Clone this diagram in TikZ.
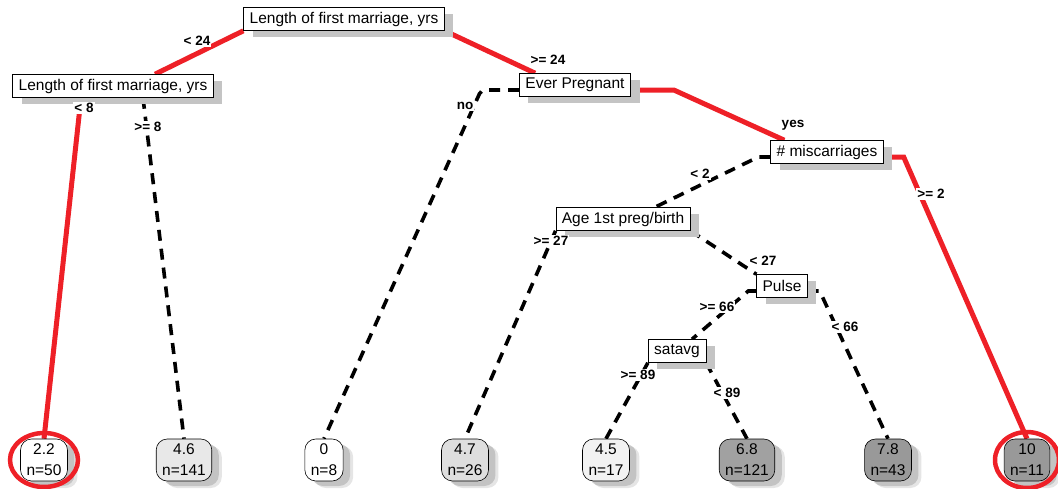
\documentclass[tikz,border=0pt]{standalone}
\usepackage{fontspec}
\setmainfont{Liberation Sans}
\usetikzlibrary{calc,shadows,shapes.geometric,backgrounds}
\definecolor{edgered}{HTML}{EE2027}
\definecolor{shadowgray}{HTML}{C4C4C4}
\tikzset{
  splitbox/.style={draw=black, line width=0.6pt, fill=white, inner xsep=6pt, inner ysep=0pt,
    minimum height=23pt, font=\fontsize{15.5}{18}\selectfont,
    general shadow={fill=shadowgray, shadow xshift=9pt, shadow yshift=-6pt}},
  leafbox/.style={draw=black, line width=0.6pt, rounded corners=11pt, align=center, inner xsep=6pt,
    inner ysep=2pt, minimum height=42pt, font=\fontsize{15.5}{21}\selectfont,
    general shadow={fill=black!40, opacity=0.25, shadow xshift=10pt, shadow yshift=-7pt},
    general shadow={fill=black!40, opacity=0.45, shadow xshift=7pt, shadow yshift=-5pt}},
  redge/.style={draw=edgered, line width=5pt},
  dedge/.style={draw=black, line width=3.6pt, dash pattern=on 11pt off 8pt},
  elabel/.style={fill=white, inner sep=1pt, font=\bfseries\fontsize{13.5}{14}\selectfont},
  hilite/.style={draw=edgered, line width=4.5pt},
}
\begin{document}
\begin{tikzpicture}[x=1pt,y=-1pt]
\useasboundingbox (0,0) rectangle (1058,488);
% split nodes
\node[splitbox] (root) at (344,19) {Length of first marriage, yrs};
\node[splitbox] (L1) at (113,86) {Length of first marriage, yrs};
\node[splitbox] (ep) at (575,85) {Ever Pregnant};
\node[splitbox] (misc) at (827,152) {\# miscarriages};
\node[splitbox] (age) at (623,219) {Age 1st preg/birth};
\node[splitbox] (pulse) at (782,286) {Pulse};
\node[splitbox] (sat) at (677,351) {satavg};
% leaves
\node[leafbox, fill=white] (l1) at (44,460) {2.2\\n=50};
\node[leafbox, fill=black!9] (l2) at (184,460) {4.6\\n=141};
\node[leafbox, fill=white] (l3) at (324,460) {0\\n=8};
\node[leafbox, fill=black!13] (l4) at (465,460) {4.7\\n=26};
\node[leafbox, fill=black!5] (l5) at (606,460) {4.5\\n=17};
\node[leafbox, fill=black!37] (l6) at (747,460) {6.8\\n=121};
\node[leafbox, fill=black!40] (l7) at (888,460) {7.8\\n=43};
\node[leafbox, fill=black!40] (l8) at (1027,460) {10\\n=11};
% edges
\begin{pgfonlayer}{background}
\draw[redge] (root.south west) -- ($(L1.north)+(42,0)$);
\draw[redge] (root.south east) -- ($(ep.north west)+(16,0)$);
\draw[redge] ($(L1.south)+(-32,0)$) -- (l1.north);
\draw[dedge] ($(L1.south)+(30,0)$) -- (l2.north);
\draw[dedge, rounded corners=4pt] ($(ep.west)+(0,5)$) -- ++(-38,0) -- (l3.north);
\draw[redge] ($(ep.east)+(0,5)$) -- ++(43,0) -- ($(misc.north west)+(14,0)$);
\draw[dedge] ($(misc.west)+(0,5)$) -- ++(-12,0) -- ($(age.north)+(32,0)$);
\draw[redge] ($(misc.east)+(0,5)$) -- ++(20,0) -- (l8.north);
\draw[dedge] (age.south west) -- (l4.north);
\draw[dedge] (age.south east) -- (pulse.north west);
\draw[dedge] ($(pulse.west)+(0,5)$) -- ++(-8,0) -- ($(sat.north)+(15,0)$);
\draw[dedge] ($(pulse.east)+(0,5)$) -- ++(12,0) -- (l7.north);
\draw[dedge] (sat.south west) -- (l5.north);
\draw[dedge] (sat.south east) -- (l6.north);
\end{pgfonlayer}
% edge labels
\node[elabel] (t1) at (197,41) {< 24};
\node[elabel] (t2) at (548,60) {>= 24};
\node[elabel] (t3) at (84,108) {< 8};
\node[elabel] (t4) at (148,127) {>= 8};
\node[elabel] (t5) at (465,106) {no};
\node[elabel] (t6) at (793,125) {yes};
\node[elabel] (t7) at (700,174) {< 2};
\node[elabel] (t8) at (931,194) {>= 2};
\node[elabel] (t9) at (551,241) {>= 27};
\node[elabel] (t10) at (763,261) {< 27};
\node[elabel] (t11) at (717,307) {>= 66};
\node[elabel] (t12) at (845,327) {< 66};
\node[elabel] (t13) at (638,375) {>= 89};
\node[elabel] (t14) at (727,393) {< 89};
% highlight circles
\node[hilite, ellipse, minimum width=68pt, minimum height=54pt] (c1) at (l1.center) {};
\node[hilite, ellipse, minimum width=64pt, minimum height=56pt] (c8) at (l8.center) {};
\end{tikzpicture}
\end{document}
